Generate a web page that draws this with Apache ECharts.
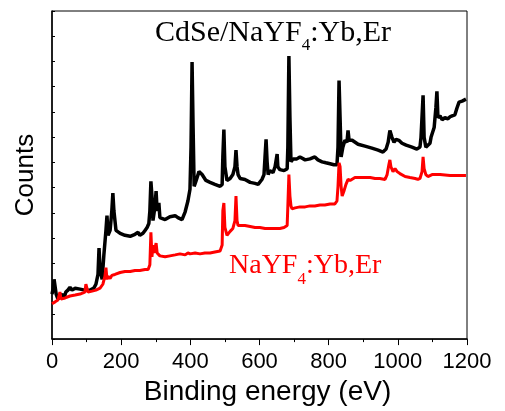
<!DOCTYPE html>
<html>
<head>
<meta charset="utf-8">
<script src="https://cdn.jsdelivr.net/npm/echarts@6/dist/echarts.min.js"></script>
<style>html,body{margin:0;padding:0;background:#fff}#c{width:505px;height:411px}</style>
</head>
<body>
<div id="c"></div>
<script>
// Binding energy (eV) and counts (arbitrary units)
var blackEnergy = [0,3,6,9,12,17,23,29,35,40,46,52,58,67,81,95,110,121,127,133,136,139,145,150,156,159,162,168,173,176,179,185,197,211,226,240,249,254,263,269,275,280,283,286,289,292,298,301,304,307,309,312,327,341,356,364,376,385,393,399,402,405,408,411,416,425,434,445,457,471,486,492,494,497,500,506,515,523,529,532,535,538,544,558,573,587,596,607,613,616,619,622,625,630,639,645,651,653,659,671,680,682,685,688,691,697,708,717,732,746,760,769,781,792,804,815,824,827,830,833,836,841,847,853,856,859,868,885,905,925,943,957,966,972,977,983,989,995,1003,1012,1024,1041,1055,1064,1067,1073,1076,1081,1087,1093,1096,1099,1105,1110,1113,1116,1122,1128,1136,1145,1151,1157,1165,1171,1177,1186,1197];
var blackCounts = [46,51,61,62,46,41,43,46,42,48,50,53,50,52,51,50,50,52,56,66,93,71,61,86,111,126,106,111,131,149,131,111,108,106,105,107,109,106,108,111,114,118,131,161,146,121,136,151,131,134,139,124,122,125,126,124,122,130,141,153,196,283,216,156,161,171,168,162,160,158,156,158,186,214,176,162,164,168,176,193,176,168,164,163,160,159,158,163,168,186,204,181,168,172,170,176,189,176,173,172,174,196,289,226,181,184,184,186,183,184,186,183,181,180,179,178,178,196,264,226,186,196,203,201,213,203,203,199,197,195,193,191,194,201,213,206,201,204,203,200,198,196,194,196,206,249,206,196,198,200,206,206,216,236,253,226,228,224,226,225,227,228,229,236,242,243,245];
var redEnergy = [0,9,17,23,26,38,52,67,81,95,98,104,116,127,139,147,153,156,159,162,168,173,182,197,211,226,240,254,269,278,283,286,289,292,295,301,304,312,327,341,356,370,385,393,399,414,428,442,457,471,486,492,494,497,500,506,515,523,529,532,535,538,544,558,573,587,601,616,630,645,659,671,680,682,685,688,691,694,703,717,732,746,760,775,789,804,818,824,827,830,833,836,839,844,850,856,862,876,891,905,920,934,948,963,969,974,977,980,986,992,998,1006,1021,1035,1050,1058,1064,1070,1073,1076,1081,1087,1099,1122,1151,1180,1197];
var redCounts = [36,38,40,48,41,42,44,45,46,48,56,48,49,50,52,56,64,73,61,64,62,65,66,68,69,69,70,70,71,71,76,109,84,96,88,98,88,85,84,85,86,87,86,88,87,88,87,88,88,89,90,96,131,139,114,106,110,113,121,146,121,116,116,116,115,114,114,113,113,113,113,114,116,136,168,146,136,133,134,135,135,136,136,137,137,138,138,141,156,180,176,156,146,151,158,163,162,165,165,165,165,164,164,163,168,178,183,176,171,174,171,169,166,165,164,163,164,171,186,174,168,166,168,168,167,167,167];
var xTicks = [0,200,400,600,800,1000,1200];

function pairs(xs, ys){ return xs.map(function(x,i){ return [x, ys[i]]; }); }

var chart = echarts.init(document.getElementById('c'), null, {renderer:'canvas'});
var yMax = 335;
function label(color, size){
  return {
    a: {fontFamily: 'Liberation Serif', fontSize: size, fill: color, color: color, lineHeight: 30, verticalAlign: 'top'},
    s: {fontFamily: 'Liberation Serif', fontSize: 17, fill: color, color: color, padding: [19,0,0,0], verticalAlign: 'top'}
  };
}
chart.setOption({
  animation: false,
  backgroundColor: '#fff',
  grid: {left: 52, right: 38, top: 11, bottom: 65, show: true, borderColor: '#000', borderWidth: 1, backgroundColor: 'transparent'},
  xAxis: {
    type: 'value', min: xTicks[0], max: xTicks[xTicks.length-1], interval: 200,
    name: 'Binding energy (eV)', nameLocation: 'middle', nameGap: 34,
    nameTextStyle: {fontFamily: 'Liberation Sans', fontSize: 28, color: '#000', padding: [0,0,0,16]},
    axisLine: {show: true, lineStyle: {color: '#000', width: 1.5}},
    axisTick: {show: true, inside: false, length: 6, lineStyle: {color: '#000', width: 1}},
    minorTick: {show: true, splitNumber: 2, length: 3, lineStyle: {color: '#000', width: 1}},
    axisLabel: {fontFamily: 'Liberation Sans', fontSize: 22, color: '#000', margin: 12, formatter: function(v){ return String(v); }},
    splitLine: {show: false}
  },
  yAxis: {
    type: 'value', min: 0, max: yMax, interval: yMax/13,
    name: 'Counts', nameLocation: 'middle', nameGap: 13,
    nameTextStyle: {fontFamily: 'Liberation Sans', fontSize: 26, color: '#000'},
    axisLine: {show: true, lineStyle: {color: '#000', width: 1.5}},
    axisTick: {show: true, inside: true, length: 3, lineStyle: {color: '#000', width: 1}},
    axisLabel: {show: false},
    splitLine: {show: false}
  },
  series: [
    {type: 'line', data: pairs(blackEnergy, blackCounts), showSymbol: false, lineStyle: {color: '#000', width: 3.5}, itemStyle: {color: '#000'}, z: 2},
    {type: 'line', data: pairs(redEnergy, redCounts), showSymbol: false, lineStyle: {color: '#ff0000', width: 3}, itemStyle: {color: '#ff0000'}, z: 3}
  ],
  graphic: [
    {type: 'text', left: 155, top: 18, z: 10, style: {
      text: '{a|CdSe/NaYF}{s|4}{a|:Yb,Er}', fill: '#000', rich: label('#000', 30)}},
    {type: 'text', left: 229, top: 252, z: 10, style: {
      text: '{a|NaYF}{s|4}{a|:Yb,Er}', fill: '#ff0000', rich: label('#ff0000', 28)}}
  ]
});
</script>
</body>
</html>
